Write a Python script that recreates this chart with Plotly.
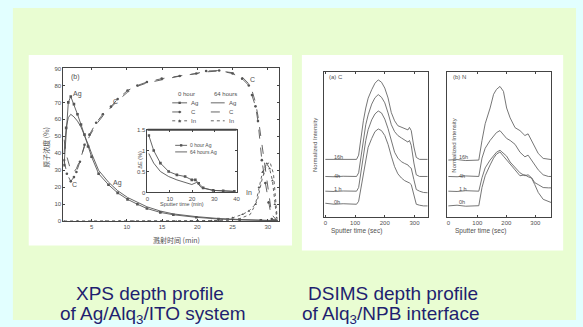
import plotly.graph_objects as go

W, H = 583, 327
def px(x): return x / W
def py(y): return 1 - y / H

# ---------------- data: XPS depth profile (left) ----------------
xps_ag0_t = [1.1, 1.4, 1.7, 2.05, 2.5, 3, 3.5, 4, 4.5, 5, 6, 7.4, 8.7, 10.1, 11.5, 12.85, 14.75, 16.6, 19.85, 23, 26, 29, 31]
xps_ag0_v = [33, 55, 70, 73.5, 69, 63, 57, 51, 44, 38, 28, 21.5, 16.7, 12.9, 10, 7.5, 5.2, 3.8, 2.3, 1.3, 0.8, 0.5, 0.3]
xps_ag64_t = [1.1, 1.4, 1.7, 2.05, 2.5, 3, 3.5, 4, 4.5, 5, 6, 7.4, 8.7, 10.1, 11.5, 12.85, 14.75, 16.6, 19.85, 23, 26, 29, 31]
xps_ag64_v = [40, 55, 61, 63, 61.5, 59, 55.5, 51, 45.5, 40, 30, 23, 18, 14, 11, 8.5, 6, 4.3, 2.7, 1.6, 1, 0.6, 0.4]
xps_c0_t = [1.1, 1.5, 2.05, 2.5, 2.85, 3.35, 4, 4.7, 5.65, 6.6, 7.75, 8.7, 10.1, 11.5, 12.85, 14.95, 17.5, 19.85, 21.25, 23.1, 25, 26.35, 27.3, 27.75, 28.25, 28.6, 29.15, 29.65, 30.1, 30.55, 31.25]
xps_c0_v = [36, 28, 23.5, 26, 29, 35, 45, 51, 58, 63, 67.5, 72, 77, 80, 82, 84, 85.6, 87, 88.5, 88.8, 87, 84, 80, 74.4, 67.7, 59, 36, 22.5, 11, 1.3, 0.4]
xps_c64_t = [1.1, 1.5, 2.05, 2.5, 2.85, 3.35, 4, 4.7, 5.65, 6.6, 7.75, 8.7, 10.1, 11.5, 12.85, 14.95, 17.5, 19.85, 21.25, 23.1, 25, 26.35, 27.3, 27.75, 28.25, 28.6, 29.15, 29.65, 30.1, 30.55, 31.25]
xps_c64_v = [48, 38, 30, 29, 31, 36, 44, 50, 57, 62, 67, 71, 76, 79.5, 81.5, 83.5, 85.5, 87, 88, 88.5, 87.5, 85, 81, 77, 70, 62, 45, 30, 15, 4, 0.5]
xps_in0_t = [1.1, 3, 5, 7, 9, 11, 13, 15, 17, 19, 21, 22, 23, 25, 26.4, 27.3, 28.25, 28.75, 29.25, 29.85, 30.25, 30.65, 31, 31.25]
xps_in0_v = [0, 0, 0, 0, 0, 0, 0, 0, 0, 0, 0, 0.2, 0.5, 2, 4, 6, 10, 20, 29, 34, 31, 24, 10, 2]
xps_in64_t = [1.1, 10, 20, 24, 26, 27.5, 28.5, 29.2, 29.8, 30.3, 30.8, 31.1, 31.3]
xps_in64_v = [0, 0, 0, 0.3, 1.5, 4, 12, 25, 33, 35, 28, 15, 3]
xps_xticks = [5, 10, 15, 20, 25, 30]
xps_yticks = [0, 10, 20, 30, 40, 50, 60, 70, 80, 90]

# inset
ins_0h_t = [0.6, 2.8, 5.8, 9.5, 13.2, 16.9, 19.9, 21.5, 23, 25, 29.5, 34, 39]
ins_0h_v = [1.36, 1.0, 0.70, 0.5, 0.42, 0.38, 0.30, 0.30, 0.22, 0.11, 0.05, 0.04, 0.03]
ins_64h_t = [0.6, 2.8, 5.8, 9.5, 13.2, 16.9, 19.9, 22.1, 24.3, 29.5, 34, 39]
ins_64h_v = [0.93, 0.70, 0.5, 0.38, 0.30, 0.23, 0.19, 0.24, 0.11, 0.05, 0.03, 0.02]
ins_xticks = [0, 10, 20, 30, 40]
ins_yticks = [0, 0.5, 1, 1.5]

# ---------------- data: DSIMS (right) ----------------
c_t = [0, 30, 60, 90, 105, 112, 120, 128, 136, 144, 156, 167, 178, 189, 200, 211, 222, 233, 244, 256, 267, 278, 283, 289, 298, 306, 317, 330, 345]
c_16h = [58.7, 58.5, 59, 58.7, 58.7, 63, 81, 98, 111, 121, 129.7, 136.3, 139.7, 137.3, 131.3, 121.3, 106.3, 98, 93, 91.3, 89.7, 88.7, 91.3, 88, 71.3, 60.7, 58.7, 58.7, 58.7]
c_4h = [41.3, 41, 41.5, 41.3, 41.3, 45, 62, 80, 94, 104, 115, 121.5, 124.7, 122, 116.3, 106, 94, 87, 83, 80.5, 78.5, 76.3, 78, 73, 55, 43, 41.3, 41.3, 41.3]
c_1h = [26.3, 26, 26.5, 26.3, 26.3, 30, 47, 64, 78, 89, 99, 105, 108, 106, 99.7, 90, 78, 66, 60, 56.3, 54.5, 53, 51, 49.7, 38, 28, 26.3, 25, 24.7]
c_0h = [14, 13, 13.5, 13, 13, 16, 30, 46, 60, 71, 80, 87, 89.7, 88, 83, 74, 62, 51.3, 44, 39.7, 37, 35.5, 34.7, 33, 22, 13, 12, 11.3, 11.3]
n_t = [0, 30, 60, 90, 105, 116, 127, 144, 156, 166, 178, 190, 201, 213, 230, 247, 264, 275, 287, 298, 310, 327, 345, 355]
n_16h = [58, 58.5, 57.5, 58, 58, 78, 95, 111, 125, 130, 133, 128, 111, 101, 91, 88, 83, 84.7, 78, 71, 64.7, 59.7, 58.7, 58.5]
n_4h = [41.3, 41, 41.8, 41.3, 41.3, 60, 70, 78, 83, 86, 88, 84, 80, 78, 74, 66, 61.3, 63, 58, 53, 48, 43, 41.3, 41.3]
n_1h = [26.3, 26, 26.8, 26.3, 26.3, 40, 50, 58, 63, 66, 68, 65, 62, 56, 50, 45, 42, 43, 40, 35, 33, 30, 29.7, 29.7]
n_0h = [11.3, 12, 11, 11.3, 11.5, 30, 42, 53, 60, 64, 66.3, 62, 58, 53, 48, 42, 43, 41, 39.7, 33, 25, 18, 15.5, 14.7]
ds_xticks = [0, 100, 200, 300]
ds_labels = ["16h", "4h", "1 h", "0h"]

INK = "#555555"
TXT = "#505050"
FONT = "Liberation Sans, Arial, sans-serif"

fig = go.Figure()

def line(x, y, xa, ya, dash="solid", marker=None, color=INK, width=0.9):
    kw = dict(x=x, y=y, xaxis=xa, yaxis=ya, showlegend=False, hoverinfo="skip",
              line=dict(color=color, width=width, dash=dash))
    if marker:
        kw["mode"] = "lines+markers"
        kw["marker"] = dict(symbol=marker, size=2.6, color=color)
    else:
        kw["mode"] = "lines"
    fig.add_trace(go.Scatter(**kw))

# left main
line(xps_ag64_t, xps_ag64_v, "x", "y")
line(xps_c64_t, xps_c64_v, "x", "y", dash="dash")
line(xps_in64_t, xps_in64_v, "x", "y", dash="dot")
line(xps_ag0_t, xps_ag0_v, "x", "y", marker="square")
line(xps_c0_t, xps_c0_v, "x", "y", dash="dash", marker="circle")
line(xps_in0_t, xps_in0_v, "x", "y", dash="dot", marker="triangle-up")
# inset
line(ins_0h_t, ins_0h_v, "x2", "y2", marker="square")
line(ins_64h_t, ins_64h_v, "x2", "y2")
# DSIMS
for v in (c_16h, c_4h, c_1h, c_0h):
    line(c_t, v, "x3", "y3", color="#666666")
for v in (n_16h, n_4h, n_1h, n_0h):
    line(n_t, v, "x4", "y4", color="#666666")

ax_common = dict(showline=True, linecolor="#444", linewidth=1, mirror="ticks", ticks="inside",
                 ticklen=2, tickcolor="#444", showgrid=False, zeroline=False,
                 tickfont=dict(size=6, color=TXT, family=FONT))
ax_noticks = {k: v for k, v in ax_common.items() if k != "ticks"}

fig.update_layout(
    width=W, height=H, margin=dict(l=0, r=0, t=0, b=0),
    paper_bgcolor="#e2ffff", plot_bgcolor="rgba(0,0,0,0)",
    xaxis=dict(domain=[px(62), px(280)], range=[1, 31.6], tickvals=xps_xticks, anchor="y", **ax_common),
    yaxis=dict(domain=[py(222.3), py(66.7)], range=[0, 90], tickvals=xps_yticks, anchor="x", **ax_common),
    xaxis2=dict(domain=[px(147), px(237)], range=[0, 40], tickvals=ins_xticks, anchor="y2", **ax_common),
    yaxis2=dict(domain=[py(193), py(129)], range=[0, 1.5], tickvals=ins_yticks, anchor="x2", **ax_common),
    xaxis3=dict(domain=[px(325), px(430)], range=[-5.7, 344], tickvals=ds_xticks, anchor="y3", **ax_common),
    yaxis3=dict(domain=[py(218), py(70)], range=[0, 148], anchor="x3", showticklabels=False, ticks="", **ax_noticks),
    xaxis4=dict(domain=[px(450), px(555)], range=[-3.4, 355], tickvals=ds_xticks, anchor="y4", **ax_common),
    yaxis4=dict(domain=[py(218), py(70)], range=[0, 148], anchor="x4", showticklabels=False, ticks="", **ax_noticks),
)

shapes = [
    dict(type="rect", xref="paper", yref="paper", x0=px(11), x1=px(580), y0=py(323), y1=py(5),
         fillcolor="#e9fdd2", line=dict(width=0), layer="below"),
    dict(type="rect", xref="paper", yref="paper", x0=px(27), x1=px(293), y0=py(247), y1=py(53),
         fillcolor="#ffffff", line=dict(width=0), layer="below"),
    dict(type="rect", xref="paper", yref="paper", x0=px(303), x1=px(567), y0=py(252), y1=py(53),
         fillcolor="#ffffff", line=dict(width=0), layer="below"),
    dict(type="line", xref="paper", yref="paper", x0=px(147), x1=px(237), y0=py(129), y1=py(129),
         line=dict(color="#444", width=2)),
]
rows = [(101.7, "solid", "square", "Ag"), (111, "dash", "circle", "C"), (120, "dot", "triangle", "In")]
for yv, dash, mk, lab in rows:
    shapes.append(dict(type="line", xref="paper", yref="paper", x0=px(172), x1=px(187), y0=py(yv), y1=py(yv),
                       line=dict(color=INK, width=0.9, dash=dash)))
    shapes.append(dict(type="line", xref="paper", yref="paper", x0=px(211), x1=px(225), y0=py(yv), y1=py(yv),
                       line=dict(color=INK, width=0.9, dash=dash)))
    if mk == "square":
        shapes.append(dict(type="rect", xref="paper", yref="paper", x0=px(178.3), x1=px(180.7), y0=py(yv + 1.2), y1=py(yv - 1.2),
                           fillcolor=INK, line=dict(width=0)))
    elif mk == "circle":
        shapes.append(dict(type="circle", xref="paper", yref="paper", x0=px(178.3), x1=px(180.7), y0=py(yv + 1.2), y1=py(yv - 1.2),
                           fillcolor=INK, line=dict(width=0)))
    else:
        shapes.append(dict(type="path", xref="paper", yref="paper",
                           path=f"M {px(178)} {py(yv+1.4)} L {px(181)} {py(yv+1.4)} L {px(179.5)} {py(yv-1.6)} Z",
                           fillcolor=INK, line=dict(width=0)))
for yv in (145, 151.7):
    shapes.append(dict(type="line", xref="paper", yref="paper", x0=px(175), x1=px(187), y0=py(yv), y1=py(yv),
                       line=dict(color=INK, width=0.9)))
shapes.append(dict(type="rect", xref="paper", yref="paper", x0=px(179.8), x1=px(182.2), y0=py(146.2), y1=py(143.8),
                   fillcolor=INK, line=dict(width=0)))
fig.update_layout(shapes=shapes)

ann = []
def txt(x, y, s, size=6, color=TXT, xanchor="center", angle=0, family=FONT):
    ann.append(dict(x=px(x), y=py(y), xref="paper", yref="paper", text=s, showarrow=False,
                    xanchor=xanchor, yanchor="middle", textangle=angle,
                    font=dict(size=size, color=color, family=family)))

CJK = "Noto Sans CJK SC, sans-serif"
txt(45, 147, "原子浓度 (%)", size=7, angle=-90, family=CJK)
txt(176, 241.5, "溅射时间 (min)", size=7, family=CJK)
txt(68, 75, "(b)", size=7, xanchor="left")
txt(70, 93, "Ag", size=7, xanchor="left")
txt(73, 185, "C", size=7)
txt(115, 100, "C", size=7)
txt(117, 183, "Ag", size=7)
txt(253, 78, "C", size=7)
txt(250, 193, "In", size=7)
txt(176, 92.7, "0 hour", xanchor="left")
txt(212, 92.7, "64 hours", xanchor="left")
for yv, _, _, lab in rows:
    txt(189, yv, lab, xanchor="left")
    txt(227, yv, lab, xanchor="left")
txt(188, 145, "0 hour Ag", size=5, xanchor="left")
txt(188, 151.7, "64 hours Ag", size=5, xanchor="left")
txt(182, 205, "Sputter time (min)", size=5.5)
txt(139, 160, "ΔE (%)", size=5.5, angle=-90)

txt(328, 75, "(a) C", size=6, xanchor="left")
txt(454, 75, "(b) N", size=6, xanchor="left")
for (y1, lab) in zip([157, 176, 189, 203], ds_labels):
    txt(333, y1, lab, size=5.5, xanchor="left")
    txt(460, y1, lab, size=5.5, xanchor="left")
txt(317, 145, "Normalized Intensity", size=6, angle=-90)
txt(457, 145, "Normalized Intensity", size=6, angle=-90)
txt(358, 232, "Sputter time (sec)", size=6.5)
txt(483, 232, "Sputter time (sec)", size=6.5)

NAVY = "#1f1f70"
txt(150, 296, "XPS depth profile", size=19, color=NAVY)
txt(153, 318, "of Ag/Alq<sub>3</sub>/ITO system", size=19, color=NAVY)
txt(395, 296, "DSIMS depth profile", size=19, color=NAVY)
txt(393, 318, "of Alq<sub>3</sub>/NPB interface", size=19, color=NAVY)

fig.update_layout(annotations=ann)
fig.write_html("out.html", config={"displayModeBar": False},
               post_script="document.body.style.margin='0';document.body.style.background='#e2ffff';document.body.style.overflow='hidden';")
